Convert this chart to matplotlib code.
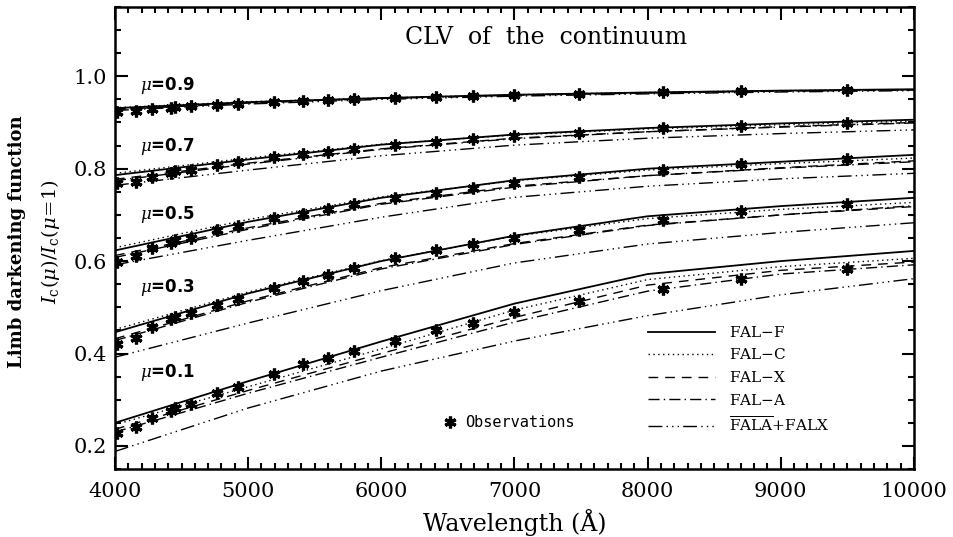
import matplotlib
matplotlib.use("Agg")
import matplotlib.pyplot as plt
from matplotlib.lines import Line2D
from matplotlib.ticker import MultipleLocator

plt.rcParams['font.family'] = ['DejaVu Serif']
plt.rcParams['mathtext.fontset'] = 'dejavuserif'

# values
mu_labels = ["0.1", "0.3", "0.5", "0.7", "0.9"]
mu_label_y = [0.358, 0.542, 0.700, 0.849, 0.981]

wl_model = [4000, 5000, 6000, 7000, 8000, 9000, 10000]

# rows: mu = 0.1, 0.3, 0.5, 0.7, 0.9
fal_f = [[0.250, 0.340, 0.426, 0.508, 0.572, 0.600, 0.622],
         [0.446, 0.530, 0.600, 0.655, 0.697, 0.719, 0.737],
         [0.623, 0.685, 0.737, 0.775, 0.800, 0.815, 0.830],
         [0.786, 0.820, 0.852, 0.874, 0.888, 0.898, 0.906],
         [0.931, 0.944, 0.953, 0.960, 0.965, 0.969, 0.972]]
fal_c = [[0.246, 0.328, 0.410, 0.494, 0.560, 0.588, 0.606],
         [0.452, 0.533, 0.601, 0.654, 0.692, 0.712, 0.727],
         [0.629, 0.690, 0.739, 0.774, 0.797, 0.811, 0.823],
         [0.790, 0.823, 0.853, 0.873, 0.886, 0.895, 0.903],
         [0.932, 0.945, 0.953, 0.960, 0.965, 0.969, 0.971]]
fal_x = [[0.236, 0.320, 0.400, 0.478, 0.548, 0.580, 0.598],
         [0.432, 0.514, 0.586, 0.638, 0.678, 0.700, 0.718],
         [0.612, 0.672, 0.725, 0.762, 0.785, 0.802, 0.817],
         [0.777, 0.812, 0.843, 0.866, 0.880, 0.891, 0.900],
         [0.929, 0.943, 0.952, 0.959, 0.964, 0.968, 0.971]]
fal_a = [[0.230, 0.314, 0.392, 0.468, 0.535, 0.572, 0.592],
         [0.428, 0.511, 0.583, 0.636, 0.677, 0.700, 0.720],
         [0.608, 0.669, 0.723, 0.760, 0.785, 0.801, 0.815],
         [0.774, 0.810, 0.842, 0.865, 0.880, 0.890, 0.899],
         [0.928, 0.942, 0.952, 0.959, 0.964, 0.968, 0.970]]
fala_falx = [[0.188, 0.282, 0.362, 0.427, 0.482, 0.527, 0.562],
             [0.392, 0.466, 0.536, 0.596, 0.637, 0.662, 0.683],
             [0.592, 0.645, 0.695, 0.738, 0.762, 0.778, 0.790],
             [0.764, 0.797, 0.828, 0.851, 0.866, 0.876, 0.884],
             [0.926, 0.940, 0.950, 0.957, 0.962, 0.966, 0.969]]

wl_obs = [4015, 4155, 4280, 4420, 4450, 4570, 4765, 4925, 5195, 5410,
          5600, 5795, 6100, 6410, 6690, 7000, 7485, 8115, 8700, 9495]
obs = [[0.227, 0.240, 0.260, 0.276, 0.281, 0.290, 0.314, 0.328, 0.355, 0.377,
        0.390, 0.405, 0.428, 0.451, 0.467, 0.489, 0.514, 0.539, 0.561, 0.582],
       [0.421, 0.434, 0.457, 0.474, 0.479, 0.488, 0.506, 0.519, 0.541, 0.557,
        0.570, 0.584, 0.606, 0.624, 0.637, 0.649, 0.668, 0.690, 0.708, 0.724],
       [0.599, 0.610, 0.628, 0.640, 0.645, 0.649, 0.667, 0.676, 0.693, 0.703,
        0.712, 0.723, 0.737, 0.748, 0.759, 0.770, 0.783, 0.797, 0.810, 0.821],
       [0.768, 0.772, 0.782, 0.791, 0.795, 0.798, 0.808, 0.814, 0.825, 0.831,
        0.836, 0.843, 0.851, 0.858, 0.864, 0.870, 0.877, 0.887, 0.893, 0.899],
       [0.923, 0.925, 0.929, 0.932, 0.934, 0.935, 0.938, 0.940, 0.944, 0.947,
        0.949, 0.951, 0.953, 0.955, 0.957, 0.960, 0.961, 0.965, 0.968, 0.970]]

models = [
    (fal_f, "FAL$-$F", "-", 1.3),
    (fal_c, "FAL$-$C", (0, (1, 2.5)), 1.0),
    (fal_x, "FAL$-$X", (0, (7, 5)), 1.0),
    (fal_a, "FAL$-$A", (0, (8, 3, 1, 3)), 1.0),
    (fala_falx, r"$\overline{\mathrm{FALA}}$+FALX", (0, (10, 3, 1, 3, 1, 3, 1, 3)), 1.0),
]

fig = plt.figure(figsize=(9.54, 5.37), dpi=100)
ax = fig.add_axes([0.1205, 0.1266, 0.8375, 0.8604])

star = (6, 2, 0)

handles = []
for data, name, ls, lw in models:
    for row in data:
        ax.plot(wl_model, row, color="black", ls=ls, lw=lw)
    handles.append(Line2D([], [], color="black", ls=ls, lw=lw, label=name))

for row in obs:
    ax.plot(wl_obs, row, ls="none", marker=star, ms=8.5, mew=2.3, color="black")

for lab, yy in zip(mu_labels, mu_label_y):
    ax.text(4190, yy, r"$\mu$=" + lab, fontsize=12, fontweight="bold",
            family="DejaVu Sans", va="center", ha="left")

ax.text(0.54, 0.935, "CLV  of  the  continuum", transform=ax.transAxes,
        ha="center", va="center", fontsize=17)

leg1 = ax.legend(handles=handles, loc="upper left", bbox_to_anchor=(0.667, 0.312),
                 frameon=False, fontsize=11, handlelength=4.4, handletextpad=0.9,
                 labelspacing=0.5, borderpad=0, borderaxespad=0)
ax.add_artist(leg1)
obs_handle = Line2D([], [], ls="none", marker=star, ms=8.5, mew=2.3, color="black",
                    label="Observations")
ax.legend(handles=[obs_handle], loc="center left", bbox_to_anchor=(0.41, 0.1),
          frameon=False, handlelength=1.0, handletextpad=0.5,
          borderpad=0, borderaxespad=0, prop={"family": "DejaVu Sans Mono", "size": 11})

ax.set_xlim(4000, 10000)
ax.set_ylim(0.15, 1.15)
ax.xaxis.set_major_locator(MultipleLocator(1000))
ax.xaxis.set_minor_locator(MultipleLocator(100))
ax.yaxis.set_major_locator(MultipleLocator(0.2))
ax.yaxis.set_minor_locator(MultipleLocator(0.05))
ax.set_yticks([0.2, 0.4, 0.6, 0.8, 1.0])
ax.tick_params(which="both", direction="in", top=True, right=True, width=1.5)
ax.tick_params(which="major", length=9, labelsize=15)
ax.tick_params(axis="x", which="major", pad=9)
ax.tick_params(axis="y", which="major", pad=6)
ax.tick_params(which="minor", length=4.5)
for s in ax.spines.values():
    s.set_linewidth(1.8)

ax.set_xlabel("Wavelength (Å)", fontsize=17, labelpad=6)
fig.text(0.018, 0.55, "Limb darkening function", rotation=90, fontsize=13,
         fontweight="bold", ha="center", va="center")
fig.text(0.053, 0.55, r"$I_{\rm c}(\mu)/I_{\rm c}(\mu\!=\!1)$", rotation=90,
         fontsize=14, ha="center", va="center")

fig.savefig("out.png", dpi=100)
